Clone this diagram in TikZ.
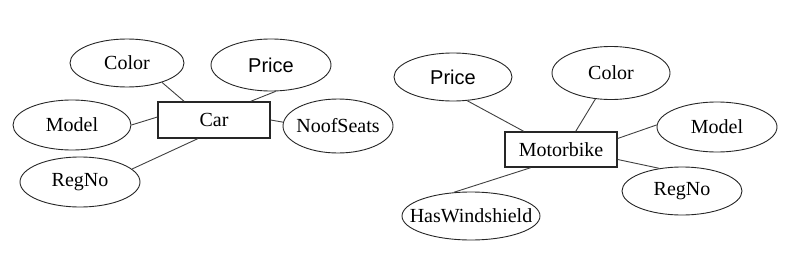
\documentclass[tikz,border=0pt]{standalone}
\usepackage{fontspec}
\setmainfont{Liberation Serif}
\newfontfamily\pricefont{Liberation Sans}
\usetikzlibrary{shapes.geometric}
\begin{document}
\begin{tikzpicture}[x=1pt,y=-1pt,
  attr/.style={draw=black!85, ellipse, line width=0.9pt, inner sep=0pt,
    font=\fontsize{20}{24}\selectfont},
  ent/.style={draw=black!85, rectangle, line width=1.4pt, inner sep=0pt,
    minimum width=112pt, minimum height=36pt, font=\fontsize{20}{24}\selectfont},
  link/.style={draw=black!75, line width=0.9pt}]
\useasboundingbox (0,0) rectangle (792,273);
% ---- Car ----
\node[ent] (car) at (214,120) {Car};
\node[attr, minimum width=114pt, minimum height=48pt] (ccolor) at (127,63) {\makebox[0pt]{Color}};
\node[attr, minimum width=120pt, minimum height=52pt] (cprice) at (271,65) {\makebox[0pt]{\pricefont Price}};
\node[attr, minimum width=118pt, minimum height=50pt] (cmodel) at (72,125) {\makebox[0pt]{Model}};
\node[attr, minimum width=110pt, minimum height=54pt] (cseats) at (338,126) {\makebox[0pt]{NoofSeats}};
\node[attr, minimum width=120pt, minimum height=50pt] (cregno) at (80,182) {\makebox[0pt]{RegNo}};
\draw[link] (ccolor.-29) -- (car.148);
\draw[link] (cprice.-80) -- (car.27);
\draw[link] (cmodel.0) -- (car.177);
\draw[link] (cseats.176) -- (car.0);
\draw[link] (cregno.14) -- (car.229);
% ---- Motorbike ----
\node[ent, minimum height=35pt] (bike) at (561,149.5) {Motorbike};
\node[attr, minimum width=118pt, minimum height=48pt] (bprice) at (453,77) {\makebox[0pt]{\pricefont Price}};
\node[attr, minimum width=118pt, minimum height=53pt] (bcolor) at (611,73) {\makebox[0pt]{Color}};
\node[attr, minimum width=120pt, minimum height=50pt] (bmodel) at (717,127) {\makebox[0pt]{Model}};
\node[attr, minimum width=120pt, minimum height=48pt] (bregno) at (682,191) {\makebox[0pt]{RegNo}};
\node[attr, minimum width=138pt, minimum height=48pt] (bwind) at (471,216) {\makebox[0pt]{HasWindshield}};
\draw[link] (bprice.-59) -- (bike.154);
\draw[link] (bcolor.-121) -- (bike.51);
\draw[link] (bmodel.178) -- (bike.11.6);
\draw[link] (bregno.135) -- (bike.-10.6);
\draw[link] (bwind.126) -- (bike.211);
\end{tikzpicture}
\end{document}
